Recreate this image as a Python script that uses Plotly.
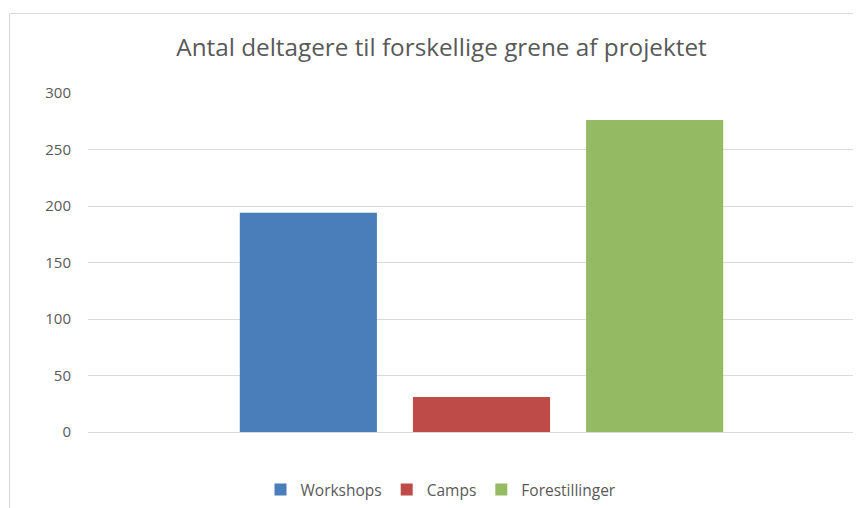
import plotly.graph_objects as go

categories = [""]
series_names = ["Workshops", "Camps", "Forestillinger"]
series_values = [[194], [31], [276]]
series_colors = ["#4A7EBB", "#BE4B48", "#94BB63"]
y_ticks = [0, 50, 100, 150, 200, 250, 300]

fig = go.Figure()
for name, vals, col in zip(series_names, series_values, series_colors):
    fig.add_trace(go.Bar(x=categories, y=vals, name=name, marker=dict(color=col, line=dict(width=0))))

OFF = 8  # page body margin
W, H = 861 - OFF, 508 - OFF
L, R, T = 88 - OFF, 0, 93 - OFF
B = H - (432 - OFF)
pw, ph = W - L - R, H - T - B

def px2paper_x(px):
    return (px - OFF - L) / pw

def px2paper_y(py):
    return (H - B - (py - OFF)) / ph

fig.update_layout(
    width=W, height=H,
    margin=dict(l=L, r=R, t=T, b=B, pad=0),
    paper_bgcolor="white", plot_bgcolor="white",
    barmode="group", bargap=0.34, bargroupgap=0.208,
    font=dict(family="Open Sans", color="#595959", size=12),
    title=dict(text="Antal deltagere til forskellige grene af projektet",
               x=(441.5 - OFF) / W, xanchor="center", xref="container",
               y=1 - (47 - OFF) / H, yanchor="middle", yref="container",
               font=dict(size=24.3, color="#595959", family="Open Sans")),
    xaxis=dict(range=[-0.5, -0.5 + pw / 787], showticklabels=False, showgrid=False,
               zeroline=False, showline=False, fixedrange=True),
    yaxis=dict(range=[0, 300], tickvals=y_ticks, showgrid=True, gridcolor="#D9D9D9",
               gridwidth=1, zeroline=True, zerolinecolor="#D9D9D9", zerolinewidth=1,
               showline=False, ticks="", ticklabelstandoff=16,
               tickfont=dict(size=15, color="#595959")),
    legend=dict(orientation="h", x=px2paper_x(441), xanchor="center",
                y=px2paper_y(490), yanchor="middle",
                font=dict(size=15.5, color="#595959"), itemwidth=30, tracegroupgap=0),
    showlegend=True,
    shapes=[dict(type="rect", xref="paper", yref="paper",
                 x0=px2paper_x(9.5), x1=px2paper_x(900), y0=px2paper_y(600), y1=px2paper_y(13.5),
                 line=dict(color="#D9D9D9", width=1), layer="below")],
)

fig.write_html("out.html")
